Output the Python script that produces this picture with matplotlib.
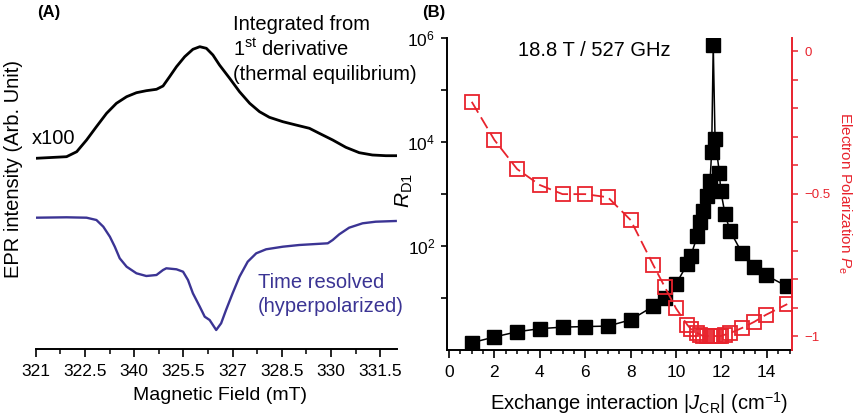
import numpy as np
import matplotlib
matplotlib.use("Agg")
import matplotlib.pyplot as plt
from matplotlib.ticker import FixedLocator, MultipleLocator, NullLocator

plt.rcParams['font.family'] = ['Liberation Sans', 'DejaVu Sans']
plt.rcParams['mathtext.fontset'] = 'custom'
plt.rcParams['mathtext.rm'] = 'Liberation Sans'
plt.rcParams['mathtext.it'] = 'Liberation Sans:italic'
plt.rcParams['mathtext.bf'] = 'Liberation Sans:bold'

# ---------------- Panel A data ----------------
field_thermal = [321.0, 321.94, 322.25, 322.55, 322.85, 323.16, 323.46, 323.77, 324.07, 324.37,
                 324.68, 324.88, 325.08, 325.29, 325.54, 325.79, 326.0, 326.2, 326.4, 326.6,
                 326.91, 327.21, 327.52, 327.82, 328.12, 328.53, 328.93, 329.34, 329.64, 330.05,
                 330.45, 330.86, 331.26, 331.67, 331.97]
int_thermal = [191, 192.6, 197.6, 209.3, 222.6, 236, 246, 252.6, 256.6, 258.6,
               260, 263.3, 272.6, 282.6, 292.6, 300, 302.6, 301, 294.3, 284.3,
               271, 257.6, 246, 237.6, 232, 227.6, 224.3, 221, 216, 209.3,
               202, 196.6, 194.3, 193.6, 193.6]

field_tr = [321.0, 321.94, 322.55, 322.85, 323.06, 323.26, 323.41, 323.56, 323.77, 324.07,
            324.37, 324.68, 324.88, 324.98, 325.29, 325.49, 325.64, 325.79, 326.0, 326.15,
            326.3, 326.5, 326.65, 326.8, 327.0, 327.21, 327.46, 327.72, 328.02, 328.53,
            329.03, 329.54, 329.9, 330.05, 330.25, 330.55, 330.96, 331.36, 331.97]
int_tr = [131.6, 132, 131.6, 129.3, 122.6, 112.6, 102.6, 91, 82.6, 76,
          73.3, 74.3, 79.3, 81, 80, 77.6, 69.3, 56, 42.6, 32.6,
          29.3, 19.3, 26, 39.3, 56, 72.6, 87.6, 96, 100, 102.6,
          104.3, 105.3, 106, 109.3, 115, 121.6, 126, 127.6, 128.3]

field_tick_pos = [321, 322.5, 324, 325.5, 327, 328.5, 330, 331.5]
field_tick_labels = ['321', '322.5', '340', '325.5', '327', '328.5', '330', '331.5']

# ---------------- Panel B data ----------------
J = [1, 2, 3, 4, 5, 6, 7, 8, 9, 9.5, 10, 10.5, 10.65, 10.94, 11.06, 11.2, 11.35, 11.5, 11.57,
     11.64, 11.72, 11.91, 11.97, 12.16, 12.38, 12.9, 13.45, 13.95, 14.9]
R_D1 = [1.38, 1.78, 2.24, 2.57, 2.75, 2.82, 2.88, 3.8, 6.9, 10, 18.6, 44.7, 64.6, 155, 282,
        468, 912, 1780, 6460, 724000, 11200, 2570, 1150, 407, 195, 74, 39.8, 27.5, 16.6]
P_e = [-0.178, -0.312, -0.414, -0.470, -0.502, -0.502, -0.513, -0.593, -0.751, -0.827, -0.903,
       -0.961, -0.975, -0.99, -0.995, -1.0, -1.0, -1.0, -1.0, -1.0, -1.0, -1.0, -1.0, -0.995,
       -0.99, -0.972, -0.95, -0.926, -0.888]

W, H = 856, 418
fig = plt.figure(figsize=(W / 100, H / 100), dpi=100)

def px(x, y):
    return x / W, 1 - y / H

# ---------------- Panel A ----------------
axA = fig.add_axes([35.7 / W, (H - 349.3) / H, 361 / W, 329.3 / H])
axA.plot(field_thermal, int_thermal, color='black', lw=2.0)
axA.plot(field_tr, int_tr, color='#3b3494', lw=1.7)
axA.set_xlim(321, 332)
axA.set_ylim(0, 329.3)
for s in ['top', 'right', 'left']:
    axA.spines[s].set_visible(False)
axA.spines['bottom'].set_linewidth(1.4)
axA.yaxis.set_major_locator(NullLocator())
axA.xaxis.set_major_locator(FixedLocator(field_tick_pos))
axA.set_xticklabels(field_tick_labels)
axA.xaxis.set_minor_locator(MultipleLocator(0.75))
axA.tick_params(axis='x', which='major', direction='out', length=6, width=1.2, labelsize=12.5, pad=4.5)
axA.tick_params(axis='x', which='minor', direction='out', length=3.5, width=1.1)
axA.set_xlabel('Magnetic Field (mT)', fontsize=14)
axA.xaxis.set_label_coords(0.51, -0.113)
axA.set_ylabel('EPR intensity (Arb. Unit)', fontsize=14.5)
axA.yaxis.set_label_coords(-0.036, 0.548)

fig.text(*px(37, 12), '(A)', fontsize=12, fontweight='bold', va='center', ha='left')
fig.text(*px(32, 138), 'x100', fontsize=14.5, va='center', ha='left')
fig.text(*px(233, 25), 'Integrated from', fontsize=14.5, va='center', ha='left')
fig.text(*px(233, 49.5), '1$^{\\mathrm{st}}$ derivative', fontsize=14.5, va='center', ha='left')
fig.text(*px(233, 74), '(thermal equilibrium)', fontsize=14.5, va='center', ha='left')
fig.text(*px(258, 282), 'Time resolved', fontsize=14.5, va='center', ha='left', color='#3b3494')
fig.text(*px(258, 307), '(hyperpolarized)', fontsize=14.5, va='center', ha='left', color='#3b3494')

# ---------------- Panel B ----------------
red = '#e8232d'
axB = fig.add_axes([447 / W, (H - 350) / H, 345 / W, 312.3 / H])
axB.plot(J, R_D1, color='black', lw=1.1, marker='s', ms=10, mfc='black', mec='black', zorder=2)
axB.set_yscale('log')
axB.set_ylim(1, 1e6)
axB.set_xlim(-0.09, 15.11)
axB.spines['top'].set_visible(False)
axB.spines['right'].set_visible(False)
axB.spines['left'].set_linewidth(1.4)
axB.spines['bottom'].set_linewidth(1.4)
axB.yaxis.set_major_locator(FixedLocator([1e1, 1e2, 1e3, 1e4, 1e5, 1e6]))
axB.set_yticklabels(['', '$10^{2}$', '', '$10^{4}$', '', '$10^{6}$'])
axB.yaxis.set_minor_locator(NullLocator())
axB.xaxis.set_major_locator(MultipleLocator(2))
axB.xaxis.set_minor_locator(MultipleLocator(0.5))
axB.tick_params(axis='x', which='major', direction='out', length=6, width=1.2, labelsize=12.5, pad=4.5)
axB.tick_params(axis='x', which='minor', direction='out', length=3.2, width=1.1)
axB.tick_params(axis='y', which='major', direction='out', length=4.5, width=1.2, labelsize=12.5, pad=4)
axB.set_ylabel('$R_{\\mathrm{D1}}$', fontsize=15)
axB.yaxis.set_label_coords(-0.093, 0.512)
axB.set_xlabel('Exchange interaction |$J_{\\mathrm{CR}}$| (cm$^{\\mathrm{-1}}$)', fontsize=14.5)
axB.xaxis.set_label_coords(0.557, -0.128)

axR = axB.twinx()
axR.plot(J, P_e, color=red, lw=1.3, linestyle=(0, (7, 3)), marker='s', ms=9.5, mfc='none',
         mec=red, mew=1.3)
axR.set_ylim(-1.049, 0.047)
for s in ['top', 'left', 'bottom']:
    axR.spines[s].set_visible(False)
axR.spines['right'].set_color(red)
axR.spines['right'].set_linewidth(1.4)
axR.yaxis.set_major_locator(FixedLocator([-1, -0.5, 0]))
axR.set_yticklabels(['\u22121', '\u22120.5', '0'])
axR.yaxis.set_minor_locator(MultipleLocator(0.1))
axR.tick_params(axis='y', which='both', direction='out', length=4.2, width=1.1, colors=red,
                labelsize=9.5, pad=5)
axR.set_ylabel('Electron Polarization $P_{\\mathrm{e}}$', fontsize=11, color=red, rotation=270)
axR.yaxis.set_label_coords(1.178, 0.503)

fig.text(*px(422, 12), '(B)', fontsize=12, fontweight='bold', va='center', ha='left')
fig.text(*px(518, 51), '18.8 T / 527 GHz', fontsize=14.5, va='center', ha='left')

fig.savefig('out.png', dpi=100)
